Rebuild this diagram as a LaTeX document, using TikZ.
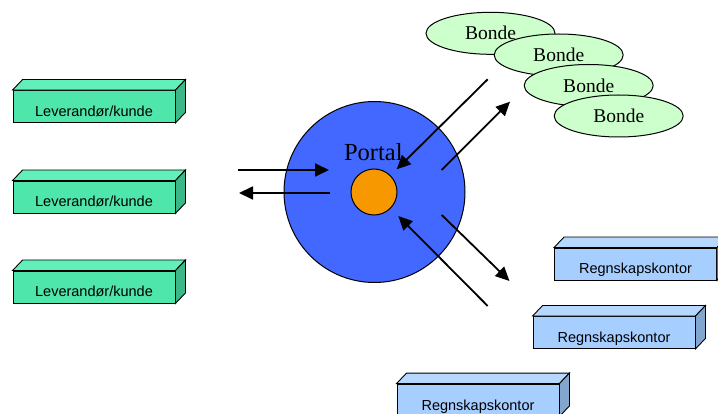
\documentclass[tikz,border=0pt]{standalone}
\usepackage{fontspec}
\setmainfont{Liberation Serif}
\setsansfont{Liberation Sans}
\usetikzlibrary{shapes.geometric,arrows.meta}

\definecolor{grfront}{RGB}{78,230,170}
\definecolor{grtop}{RGB}{98,240,186}
\definecolor{grside}{RGB}{60,184,136}
\definecolor{blfront}{RGB}{166,206,255}
\definecolor{bltop}{RGB}{182,216,255}
\definecolor{blside}{RGB}{130,166,206}
\definecolor{bondefarge}{RGB}{204,255,204}
\definecolor{portalblaa}{RGB}{66,104,255}
\definecolor{kjernefarge}{RGB}{247,152,0}

% 3D-kasse: navn, posisjon, tekst, farge
\newcommand{\kasse}[4]{%
  \node[kasse,fill=#4front] (#1) at (#2) {#3};
  \draw[line width=0.9pt,fill=#4top] (#1.north west) -- ([shift={(10,-10.5)}]#1.north west)
    -- ([shift={(10,-10.5)}]#1.north east) -- (#1.north east) -- cycle;
  \draw[line width=0.9pt,fill=#4side] (#1.north east) -- ([shift={(10,-10.5)}]#1.north east)
    -- ([shift={(10,-10.5)}]#1.south east) -- (#1.south east) -- cycle;
}

\begin{document}
\begin{tikzpicture}
[x=1pt,y=-1pt,
kasse/.style={draw,line width=0.9pt,minimum width=162pt,minimum height=32pt,inner sep=0pt,
  text height=20pt,text depth=0pt,font=\sffamily\fontsize{14.5}{16}\selectfont},
bonde/.style={ellipse,draw,fill=bondefarge,line width=1pt,minimum width=129pt,
  minimum height=42pt,inner sep=0pt,font=\fontsize{19.5}{22}\selectfont},
pil/.style={line width=1.8pt,-{Triangle[length=14pt,width=13pt]}}]
\useasboundingbox (0,0) rectangle (718,414);
\clip (0,0) rectangle (718,414);

% leverandører
\kasse{lev1}{94,106.5}{Leverandør/kunde}{gr}
\kasse{lev2}{94,197}{Leverandør/kunde}{gr}
\kasse{lev3}{94,287}{Leverandør/kunde}{gr}

% regnskapskontor
\kasse{regn1}{635.5,264}{Regnskapskontor}{bl}
\kasse{regn2}{614,332.5}{Regnskapskontor}{bl}
\kasse{regn3}{478,400}{Regnskapskontor}{bl}

% bønder
\node[bonde] (bonde1) at (490.5,33.3) {Bonde};
\node[bonde] (bonde2) at (558.7,55) {Bonde};
\node[bonde] (bonde3) at (588.7,85.5) {Bonde};
\node[bonde] (bonde4) at (618.7,116) {Bonde};

% portal
\node[circle,draw,line width=1pt,fill=portalblaa,minimum size=181pt,inner sep=0pt] (portal) at (374.5,192) {};
\node[font=\fontsize{24.5}{28}\selectfont,inner sep=0pt] (portaltekst) at (373.3,152) {Portal};
\node[circle,draw,line width=1pt,fill=kjernefarge,minimum size=46pt,inner sep=0pt] (kjerne) at (374,192) {};

% piler
\coordinate (v1) at (238,170);
\coordinate (v2) at (329,170);
\coordinate (v3) at (330,193);
\coordinate (v4) at (239,193);
\coordinate (b1) at (487.7,79.3);
\coordinate (b2) at (396.7,169.3);
\coordinate (b3) at (441.7,170);
\coordinate (b4) at (510,101.7);
\coordinate (r1) at (441.7,215);
\coordinate (r2) at (509.5,281);
\coordinate (r3) at (487.7,306);
\coordinate (r4) at (398.3,216);

\draw[pil] (v1) -- (v2);
\draw[pil] (v3) -- (v4);
\draw[pil] (b1) -- (b2);
\draw[pil] (b3) -- (b4);
\draw[pil] (r1) -- (r2);
\draw[pil] (r3) -- (r4);
\end{tikzpicture}
\end{document}
